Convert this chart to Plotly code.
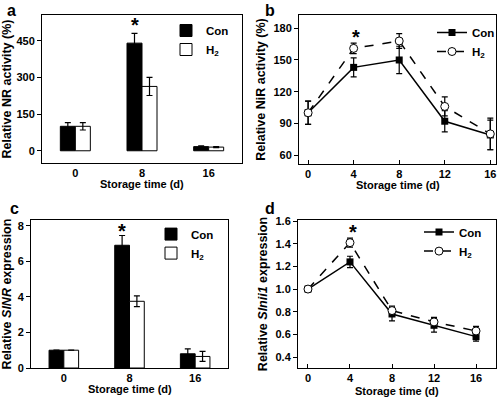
import plotly.graph_objects as go

# Panel a: relative NR activity (%)
cats_bar = ["0", "8", "16"]
a_con = [100, 440, 17]
a_con_err = [15, 40, 3]
a_h2 = [100, 263, 15]
a_h2_err = [15, 37, 2]

# Panel b: relative NiR activity (%)
days = [0, 4, 8, 12, 16]
b_con = [100, 143, 150, 92, 79]
b_con_err = [11, 9, 13, 10, 14]
b_h2 = [100, 161, 168, 106, 80]
b_h2_err = [11, 5, 7, 9, 15]

# Panel c: relative SlNR expression
c_con = [1.0, 6.9, 0.8]
c_con_err = [0.0, 0.55, 0.28]
c_h2 = [1.0, 3.75, 0.65]
c_h2_err = [0.0, 0.3, 0.28]

# Panel d: relative Slnii1 expression
d_con = [1.0, 1.24, 0.78, 0.68, 0.58]
d_con_err = [0.0, 0.05, 0.06, 0.06, 0.04]
d_h2 = [1.0, 1.41, 0.81, 0.71, 0.63]
d_h2_err = [0.0, 0.04, 0.04, 0.04, 0.04]

FONT = "Liberation Sans, Arial, sans-serif"
fig = go.Figure()

def bar_pair(xa, ya, con, cerr, h2, herr, legend):
    fig.add_trace(go.Bar(x=cats_bar, y=con, name="Con", xaxis=xa, yaxis=ya,
                         marker=dict(color="black", line=dict(color="black", width=1)),
                         error_y=dict(type="data", array=cerr, color="black", thickness=1.2, width=3),
                         legend=legend))
    fig.add_trace(go.Bar(x=cats_bar, y=h2, name="H<sub>2</sub>", xaxis=xa, yaxis=ya,
                         marker=dict(color="white", line=dict(color="black", width=1)),
                         error_y=dict(type="data", array=herr, color="black", thickness=1.2, width=3),
                         legend=legend))

def line_pair(xa, ya, con, cerr, h2, herr, legend):
    fig.add_trace(go.Scatter(x=days, y=con, name="Con", xaxis=xa, yaxis=ya, mode="lines+markers",
                             line=dict(color="black", width=1.5),
                             marker=dict(symbol="square", size=7, color="black"),
                             error_y=dict(type="data", array=cerr, color="black", thickness=1.2, width=3),
                             legend=legend))
    fig.add_trace(go.Scatter(x=days, y=h2, name="H<sub>2</sub>", xaxis=xa, yaxis=ya, mode="lines+markers",
                             line=dict(color="black", width=1.5, dash="dash"),
                             marker=dict(symbol="circle", size=8, color="white", line=dict(color="black", width=1)),
                             error_y=dict(type="data", array=herr, color="black", thickness=1.2, width=3),
                             legend=legend))

bar_pair("x", "y", a_con, a_con_err, a_h2, a_h2_err, "legend")
line_pair("x2", "y2", b_con, b_con_err, b_h2, b_h2_err, "legend2")
bar_pair("x3", "y3", c_con, c_con_err, c_h2, c_h2_err, "legend3")
line_pair("x4", "y4", d_con, d_con_err, d_h2, d_h2_err, "legend4")

tickf = dict(family=FONT, size=11, color="black", weight="bold")
ytitlef = dict(family=FONT, size=12.5, color="black", weight="bold")
xtitlef = dict(family=FONT, size=11, color="black", weight="bold")
ax = dict(showline=True, mirror=True, linecolor="black", linewidth=1, ticks="outside",
          ticklen=4, tickcolor="black", tickfont=tickf, showgrid=False, zeroline=False)
axbar = dict(ax, ticks="")
axin = dict(ax, ticks="inside")

fig.update_layout(
    width=500, height=400, margin=dict(l=0, r=0, t=0, b=0, autoexpand=False),
    paper_bgcolor="white", plot_bgcolor="white", barmode="group", bargap=0.55, bargroupgap=0,
    font=dict(family=FONT, color="black"),
    xaxis=dict(axbar, domain=[0.084, 0.484], anchor="y", type="category", range=[-0.5, 2.5]),
    yaxis=dict(ax, domain=[0.5925, 0.9625], anchor="x", range=[-50, 555], tickvals=[0, 150, 300, 450],
               title=dict(text="Relative NR activity (%)", font=ytitlef, standoff=5)),
    xaxis2=dict(axin, domain=[0.598, 0.992], anchor="y2", range=[-0.8, 16.5], tickvals=days),
    yaxis2=dict(ax, domain=[0.59, 0.9625], anchor="x2", range=[51.5, 192.6], tickvals=[60, 90, 120, 150, 180],
                title=dict(text="Relative NiR activity (%)", font=ytitlef, standoff=5)),
    xaxis3=dict(axbar, domain=[0.062, 0.456], anchor="y3", type="category", range=[-0.5, 2.5]),
    yaxis3=dict(ax, domain=[0.08, 0.45], anchor="x3", range=[0, 8.32], tickvals=[0, 2, 4, 6, 8],
                title=dict(text="Relative <i>SlNR</i> expression", font=ytitlef, standoff=5)),
    xaxis4=dict(axin, domain=[0.596, 0.992], anchor="y4", range=[-0.95, 17.9], tickvals=days),
    yaxis4=dict(ax, domain=[0.08, 0.45], anchor="x4", range=[0.303, 1.61],
                tickvals=[0.4, 0.6, 0.8, 1.0, 1.2, 1.4, 1.6], tickformat=".1f",
                title=dict(text="Relative <i>Slnii1</i> expression", font=ytitlef, standoff=5)),
)

legf = dict(family=FONT, size=11.5, color="black", weight="bold")
leg = dict(bgcolor="rgba(0,0,0,0)", font=legf, tracegroupgap=0, itemwidth=30,
           xanchor="left", yanchor="top")
fig.update_layout(
    legend=dict(leg, x=0.332, y=0.96),
    legend2=dict(leg, x=1.0, xanchor="right", y=0.955),
    legend3=dict(leg, x=0.302, y=0.451),
    legend4=dict(leg, x=0.838, y=0.456),
)

# x-axis titles (placed as annotations close under the tick labels)
xtitles = [("x domain", 1 - 184 / 400), ("x2 domain", 1 - 185 / 400),
           ("x3 domain", 1 - 388.5 / 400), ("x4 domain", 1 - 390.5 / 400)]
for xr, y in xtitles:
    fig.add_annotation(text="Storage time (d)", x=0.5, y=y, xref=xr, yref="paper", showarrow=False,
                       xanchor="center", yanchor="middle", font=xtitlef)

letters = [("a", 0.01, 1.0), ("b", 0.525, 1.0), ("c", 0.015, 0.505), ("d", 0.525, 0.505)]
for t, x, y in letters:
    fig.add_annotation(text=t, x=x, y=y, xref="paper", yref="paper", xanchor="left", yanchor="top",
                       showarrow=False, font=dict(family=FONT, size=16, color="black", weight="bold"))

stars = [("x", "y", 1, 515, -7.5), ("x2", "y2", 4, 172, 2), ("x3", "y3", 1, 7.69, -8), ("x4", "y4", 4, 1.50, 3)]
for xa, ya, x, y, xs in stars:
    fig.add_annotation(text="*", x=x, y=y, xref=xa, yref=ya, showarrow=False, xshift=xs,
                       font=dict(family=FONT, size=20, color="black", weight="bold"))

fig.write_html("out.html", config={"displayModeBar": False},
               post_script="document.body.style.margin='0';document.body.style.overflow='hidden';")
